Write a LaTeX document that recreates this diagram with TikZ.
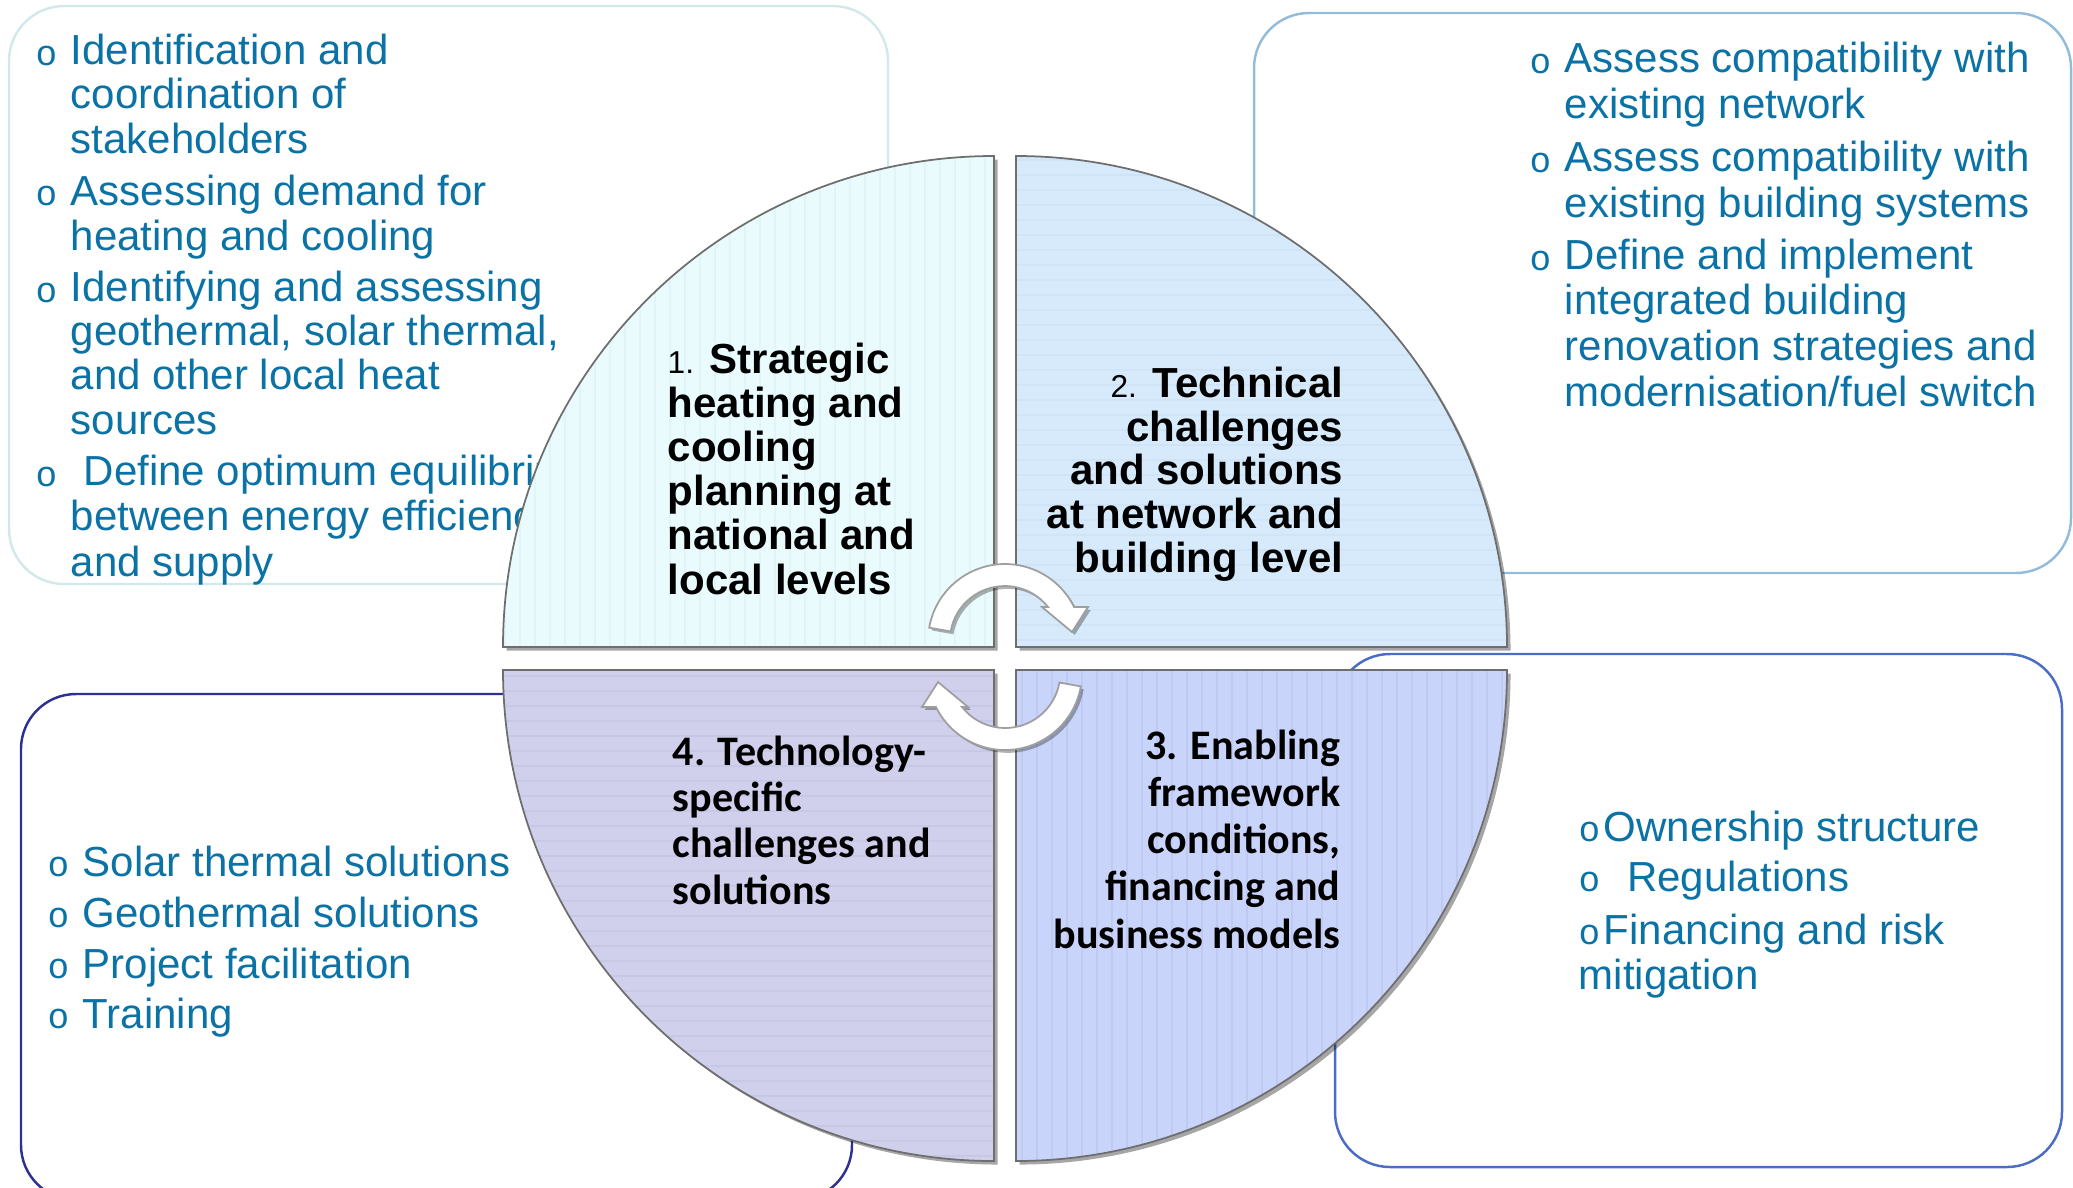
\documentclass[tikz,border=0pt]{standalone}
\usepackage{fontspec}
\setmainfont{Liberation Sans}
\newfontfamily\calfont{Carlito}
\newfontfamily\bulletfont{Liberation Mono}
\usetikzlibrary{shadows}

\definecolor{itemblue}{HTML}{0B72A6}
\definecolor{boxtl}{HTML}{D3E8EB}
\definecolor{boxtr}{HTML}{93BCDA}
\definecolor{boxbl}{HTML}{2E3192}
\definecolor{boxbr}{HTML}{4A6CC4}
\definecolor{qone}{HTML}{E9FBFD}
\definecolor{qonel}{HTML}{E1F4F7}
\definecolor{qtwo}{HTML}{D6EAFB}
\definecolor{qtwol}{HTML}{CFE4F7}
\definecolor{qthree}{HTML}{C9D4FB}
\definecolor{qthreel}{HTML}{BFC9F2}
\definecolor{qfour}{HTML}{D0D0EC}
\definecolor{qfourl}{HTML}{C7C7E6}
\definecolor{rimgray}{HTML}{6E6E6E}

% text is set in cm so that it follows the pixel grid below
\newcommand\listsize{\fontsize{0.42cm}{0.44cm}\selectfont}
\newcommand\bulletsize{\fontsize{0.36cm}{0.44cm}\selectfont}
\newcommand\bulletmark{{\bulletfont\bulletsize o}\hspace{1pt}}

\begin{document}
\begin{tikzpicture}[x=0.01cm, y=-0.01cm,
	outerbox/.style={line width=0.7pt, rounded corners=0.55cm},
	item/.style={text=itemblue, font=\listsize, align=left, anchor=base west, inner sep=0pt},
	bul/.style={text=itemblue, font=\bulletfont\bulletsize, anchor=base west, inner sep=0pt},
	quad/.style={draw=rimgray, line width=0.5pt,
		drop shadow={shadow xshift=1pt, shadow yshift=-1pt, opacity=0.35, fill=black}},
	stripe/.style={line width=0.8pt},
	qlabel/.style={font=\bfseries\fontsize{0.42cm}{0.44cm}\selectfont, inner sep=0pt},
	qlabelcal/.style={font=\calfont\bfseries\fontsize{0.42cm}{0.47cm}\selectfont, inner sep=0pt},
	cyclearrow/.style={fill=white, draw=gray!75, line width=0.5pt,
		drop shadow={shadow xshift=0.8pt, shadow yshift=-0.8pt, opacity=0.3, fill=black}}]
	\useasboundingbox (0,0) rectangle (2073,1187);

	% frames round the four lists
	\draw[outerbox, draw=boxtl] (9,6) rectangle (888,584);
	\draw[outerbox, draw=boxtr] (1254,13) rectangle (2071,573);
	\draw[outerbox, draw=boxbl] (21,694) rectangle (852,1200);
	\draw[outerbox, draw=boxbr] (1335,654) rectangle (2062,1167);

	% top left list (text nodes sit on their last line)
	\node[bul] (tlb1) at (35,65) {o};
	\node[item] (tl1) at (70,153) {Identification and\\coordination of\\stakeholders};
	\node[bul] (tlb2) at (35,205) {o};
	\node[item] (tl2) at (70,250) {Assessing demand for\\heating and cooling};
	\node[bul] (tlb3) at (35,302) {o};
	\node[item] (tl3) at (70,434) {Identifying and assessing\\geothermal, solar thermal,\\and other local heat\\sources};
	\node[bul] (tlb4) at (35,486) {o};
	\node[item, font=\fontsize{0.42cm}{0.45cm}\selectfont] (tl4) at (70,576)
		{\hspace{3.7pt}Define optimum equilibrium\\between energy efficiency\\and supply};

	% top right list
	\begin{scope}[item/.append style={font=\fontsize{0.42cm}{0.455cm}\selectfont}]
	\node[bul] (trb1) at (1529,73) {o};
	\node[item] (tr1) at (1564,118) {Assess compatibility with\\existing network};
	\node[bul] (trb2) at (1529,172) {o};
	\node[item] (tr2) at (1564,217) {Assess compatibility with\\existing building systems};
	\node[bul] (trb3) at (1529,270) {o};
	\node[item] (tr3) at (1564,406) {Define and implement\\integrated building\\renovation strategies and\\modernisation/fuel switch};
	\end{scope}

	% bottom left list
	\node[bul] (blb1) at (47,876) {o};
	\node[item] (bl1) at (82,876) {Solar thermal solutions};
	\node[bul] (blb2) at (47,927) {o};
	\node[item] (bl2) at (82,927) {Geothermal solutions};
	\node[bul] (blb3) at (47,978) {o};
	\node[item] (bl3) at (82,978) {Project facilitation};
	\node[bul] (blb4) at (47,1028) {o};
	\node[item] (bl4) at (82,1028) {Training};

	% bottom right list
	\node[item] (br1) at (1578,841) {\bulletmark Ownership structure};
	\node[item] (br2) at (1578,891) {\bulletmark~~Regulations};
	\node[item] (br3) at (1578,989) {\bulletmark Financing and risk\\mitigation};

	% the four quarters
	\filldraw[quad, fill=qone, path picture={
		\foreach \x in {505,520,...,994} \draw[stripe, qonel] (\x,150) -- (\x,650);}]
		(994,647) -- (503,647) arc[start angle=180, end angle=270, radius=491] -- cycle;
	\filldraw[quad, fill=qtwo, path picture={
		\foreach \y in {160,175,...,647} \draw[stripe, qtwol] (1010,\y) -- (1510,\y);}]
		(1016,647) -- (1016,156) arc[start angle=270, end angle=360, radius=491] -- cycle;
	\filldraw[quad, fill=qthree, path picture={
		\foreach \x in {1022,1037,...,1507} \draw[stripe, qthreel] (\x,665) -- (\x,1165);}]
		(1016,670) -- (1507,670) arc[start angle=0, end angle=90, radius=491] -- cycle;
	\filldraw[quad, fill=qfour, path picture={
		\foreach \y in {676,691,...,1165} \draw[stripe, qfourl] (500,\y) -- (1000,\y);}]
		(994,670) -- (994,1161) arc[start angle=90, end angle=180, radius=491] -- cycle;

	% quarter titles
	\node[qlabel, align=left, anchor=base west] (q1) at (667,594)
		{{\mdseries\fontsize{9pt}{0.44cm}\selectfont 1.} Strategic\\heating and\\cooling\\planning at\\national and\\local levels};
	\node[qlabel, font=\bfseries\fontsize{0.42cm}{0.435cm}\selectfont, align=right, anchor=base east] (q2) at (1344,572)
		{{\mdseries\fontsize{9pt}{0.435cm}\selectfont 2.} Technical\\challenges\\and solutions\\at network and\\building level};
	\node[qlabelcal, align=right, anchor=base east] (q3) at (1341,948)
		{3. Enabling\\framework\\conditions,\\financing and\\business models};
	\node[qlabelcal, font=\calfont\bfseries\fontsize{0.42cm}{0.46cm}\selectfont, align=left, anchor=base west] (q4) at (672,904)
		{4. Technology-\\specific\\challenges and\\solutions};

	% turning arrows in the middle
	\foreach \r in {0,180}
		\filldraw[cyclearrow, rotate around={\r:(1005,657)}]
			(1005,641) ++(-170:77) arc[start angle=-170, end angle=-26.2, radius=77]
			-- (1088,607) -- (1072,632) -- (1042,607) -- (1048,607)
			arc[start angle=-38.2, end angle=-170, radius=55] -- cycle;
\end{tikzpicture}
\end{document}
